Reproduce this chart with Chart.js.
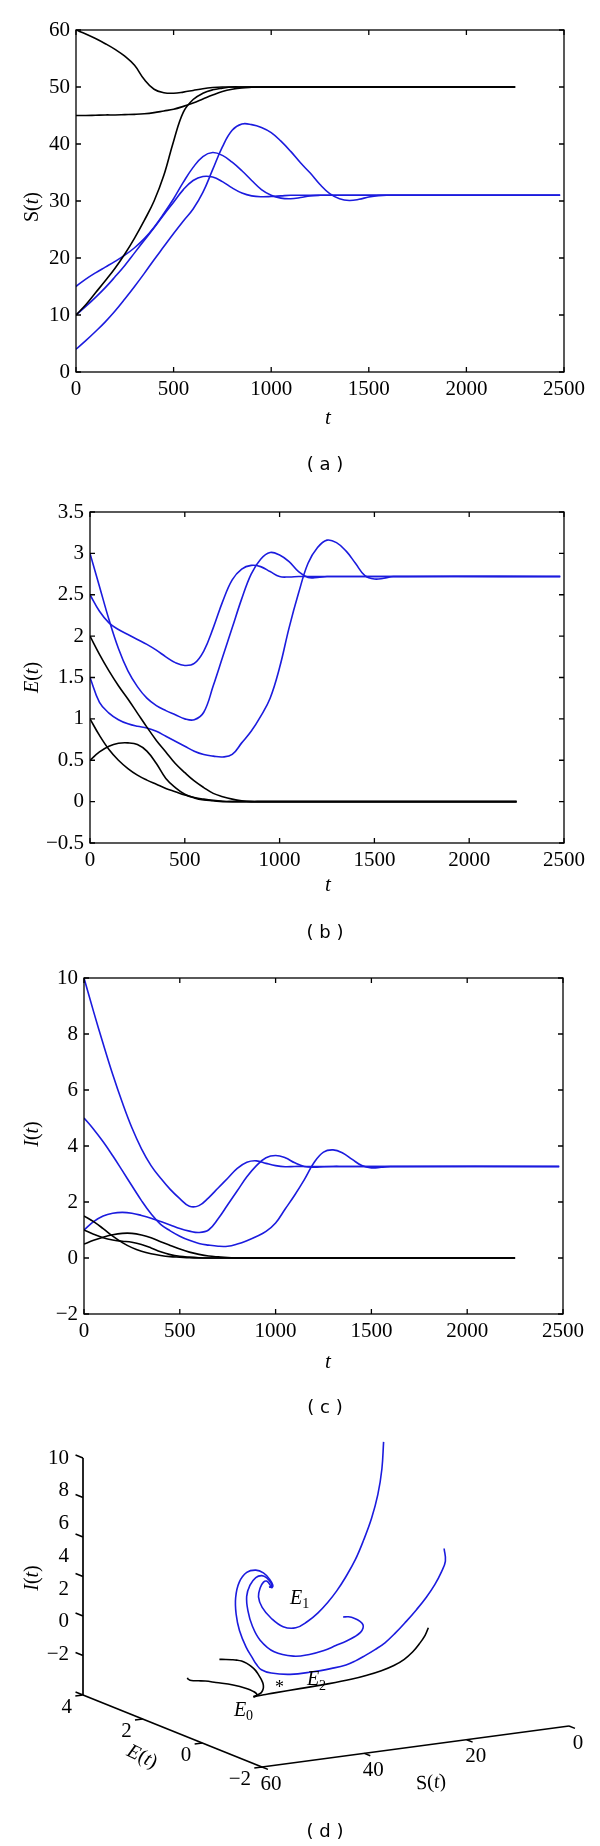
<!DOCTYPE html>
<html>
<head>
<meta charset="utf-8">
<script src="https://cdn.jsdelivr.net/npm/chart.js@4.4.1/dist/chart.umd.min.js"></script>
<style>
  body { margin: 0; background: #fff; }
  #wrap { position: relative; width: 600px; height: 1846px; background: #fff; }
  canvas { position: absolute; left: 0; }
</style>
</head>
<body>
<div id="wrap">
  <canvas id="chartS" width="600" height="480" style="top:0px"></canvas>
  <canvas id="chartE" width="600" height="470" style="top:480px"></canvas>
  <canvas id="chartI" width="600" height="470" style="top:950px"></canvas>
  <canvas id="chart3d" width="600" height="426" style="top:1420px"></canvas>
</div>
<script>
// time grid (black runs stop at 2250, blue runs at 2480)
var tBlack = [0,50,100,150,200,250,300,350,400,450,500,550,600,650,700,750,800,850,900,950,1000,1050,1100,1150,1200,1250,1300,1350,1400,1450,1500,1550,1600,2250];
var tBlue  = [0,50,100,150,200,250,300,350,400,450,500,550,600,650,700,750,800,850,900,950,1000,1050,1100,1150,1200,1250,1300,1350,1400,1450,1500,1550,1600,2480];

// S(t)
var sBlack60 = [60,59.3,58.5,57.6,56.6,55.4,53.8,51.3,49.6,49.0,48.9,49.1,49.4,49.7,49.9,50,50,50,50,50,50,50,50,50,50,50,50,50,50,50,50,50,50,50];
var sBlack45 = [45,45,45.05,45.1,45.1,45.15,45.2,45.3,45.5,45.8,46.1,46.6,47.2,47.9,48.6,49.2,49.6,49.85,49.95,50,50,50,50,50,50,50,50,50,50,50,50,50,50,50];
var sBlack10 = [10,11.8,13.9,16.0,18.2,20.7,23.5,26.6,30.0,34.5,40.5,45.6,47.8,48.9,49.5,49.8,50,50,50,50,50,50,50,50,50,50,50,50,50,50,50,50,50,50];
var sBlue10  = [10,11.5,13.1,14.8,16.7,18.7,20.9,23.1,25.3,27.6,29.8,32.0,33.6,34.3,34.2,33.4,32.3,31.4,30.9,30.75,30.8,30.9,31,31,31,31,31,31,31,31,31,31,31,31];
var sBlue15  = [15,16.3,17.4,18.4,19.4,20.5,21.8,23.4,25.4,27.8,30.4,33.3,35.9,37.8,38.5,38.0,36.8,35.3,33.6,32.0,31.0,30.5,30.4,30.6,30.9,31.0,31,31,31,31,31,31,31,31];
var sBlue4   = [4,5.5,7.1,8.8,10.7,12.8,15.0,17.3,19.7,22.0,24.3,26.5,28.6,31.5,35.5,39.5,42.4,43.5,43.4,42.9,42.0,40.5,38.7,36.7,34.9,32.9,31.3,30.4,30.1,30.3,30.7,30.95,31,31];

// E(t)
var eBlack2  = [2,1.78,1.58,1.4,1.24,1.07,0.9,0.74,0.6,0.46,0.35,0.25,0.17,0.1,0.06,0.03,0.01,0,0,0,0,0,0,0,0,0,0,0,0,0,0,0,0,0];
var eBlack1  = [1,0.8,0.63,0.5,0.4,0.32,0.26,0.21,0.16,0.12,0.08,0.05,0.03,0.015,0.005,0,0,0,0,0,0,0,0,0,0,0,0,0,0,0,0,0,0,0];
var eBlack05 = [0.5,0.6,0.67,0.705,0.71,0.69,0.61,0.46,0.28,0.17,0.09,0.045,0.02,0.01,0,0,0,0,0,0,0,0,0,0,0,0,0,0,0,0,0,0,0,0];
var eBlue25  = [2.5,2.3,2.16,2.08,2.02,1.96,1.9,1.83,1.75,1.68,1.645,1.67,1.82,2.1,2.42,2.68,2.81,2.855,2.84,2.78,2.72,2.715,2.72,2.72,2.72,2.72,2.72,2.72,2.72,2.72,2.72,2.72,2.72,2.72];
var eBlue3   = [3,2.6,2.2,1.85,1.58,1.39,1.25,1.16,1.1,1.05,1.0,0.99,1.08,1.4,1.75,2.1,2.45,2.75,2.93,3.01,2.98,2.9,2.78,2.71,2.71,2.72,2.72,2.72,2.72,2.72,2.72,2.72,2.72,2.72];
var eBlue15  = [1.5,1.2,1.07,0.99,0.94,0.91,0.89,0.85,0.79,0.73,0.67,0.61,0.57,0.55,0.54,0.57,0.71,0.85,1.03,1.25,1.62,2.1,2.52,2.88,3.07,3.16,3.13,3.03,2.88,2.73,2.69,2.7,2.72,2.72];

// I(t)
var iBlack15 = [1.5,1.3,1.05,0.78,0.55,0.37,0.24,0.15,0.09,0.05,0.03,0.01,0,0,0,0,0,0,0,0,0,0,0,0,0,0,0,0,0,0,0,0,0,0];
var iBlack1  = [1,0.85,0.72,0.64,0.6,0.56,0.48,0.36,0.22,0.12,0.06,0.03,0.01,0,0,0,0,0,0,0,0,0,0,0,0,0,0,0,0,0,0,0,0,0];
var iBlack05 = [0.5,0.63,0.74,0.83,0.88,0.88,0.82,0.72,0.58,0.45,0.32,0.21,0.13,0.07,0.04,0.02,0,0,0,0,0,0,0,0,0,0,0,0,0,0,0,0,0,0];
var iBlue10  = [10,8.8,7.65,6.55,5.55,4.65,3.9,3.3,2.85,2.45,2.12,1.85,1.87,2.15,2.5,2.85,3.2,3.42,3.47,3.38,3.3,3.26,3.27,3.27,3.27,3.27,3.27,3.27,3.27,3.27,3.27,3.27,3.27,3.27];
var iBlue1   = [1,1.3,1.5,1.6,1.63,1.6,1.52,1.42,1.3,1.18,1.05,0.96,0.91,1.0,1.4,1.9,2.4,2.9,3.3,3.58,3.66,3.58,3.4,3.27,3.24,3.26,3.27,3.27,3.27,3.27,3.27,3.27,3.27,3.27];
var iBlue5   = [5,4.6,4.15,3.65,3.12,2.58,2.05,1.58,1.2,0.97,0.78,0.63,0.52,0.46,0.42,0.42,0.5,0.62,0.77,0.95,1.25,1.75,2.25,2.8,3.4,3.78,3.86,3.75,3.52,3.3,3.22,3.24,3.27,3.27];

// tick values
var tTicks = [0, 500, 1000, 1500, 2000, 2500];
var sTicks3d = [60, 40, 20, 0];
var eTicks3d = [4, 2, 0, -2];
var iTicks3d = [10, 8, 6, 4, 2, 0, -2];

// equilibria for the phase portrait
var eqE0 = [50, 0, 0];
var eqE1 = [31, 2.72, 3.27];
var eqE2 = [42, 0.5, 0];

var BLUE = '#1b1bde';
var BLACK = '#000000';
var TICK_FONT = 21;

Chart.defaults.font.family = '"Liberation Serif", "Times New Roman", serif';
Chart.defaults.color = '#000';

function minusSign(v) { return String(v).replace('-', '\u2212'); }

// draws text made of pieces [text, italic, subscript] centred at x,y
function richText(ctx, parts, x, y, angle, size) {
  function fontFor(p) {
    return (p[1] ? 'italic ' : '') + (p[2] ? Math.round(size * 0.7) : size) + 'px "Liberation Serif"';
  }
  ctx.save();
  ctx.translate(x, y);
  ctx.rotate(angle);
  ctx.textBaseline = 'middle';
  ctx.textAlign = 'left';
  var w = 0;
  parts.forEach(function(p) { ctx.font = fontFor(p); w += ctx.measureText(p[0]).width; });
  var cx = -w / 2;
  parts.forEach(function(p) {
    ctx.font = fontFor(p);
    ctx.fillText(p[0], cx, p[2] ? size * 0.3 : 0);
    cx += ctx.measureText(p[0]).width;
  });
  ctx.restore();
}

// box with inward ticks, axis titles and caption for the time plots
var panelDecor = {
  id: 'panelDecor',
  afterDatasetsDraw: function(chart, args, o) {
    var ctx = chart.ctx, a = chart.chartArea;
    var xs = chart.scales.x, ys = chart.scales.y;
    ctx.save();
    ctx.strokeStyle = '#000';
    ctx.lineWidth = 1.3;
    ctx.beginPath();
    xs.ticks.forEach(function(tk) {
      var p = xs.getPixelForValue(tk.value);
      ctx.moveTo(p, a.bottom); ctx.lineTo(p, a.bottom - 5);
      ctx.moveTo(p, a.top); ctx.lineTo(p, a.top + 5);
    });
    ys.ticks.forEach(function(tk) {
      var p = ys.getPixelForValue(tk.value);
      ctx.moveTo(a.left, p); ctx.lineTo(a.left + 5, p);
      ctx.moveTo(a.right, p); ctx.lineTo(a.right - 5, p);
    });
    ctx.stroke();
    ctx.strokeRect(a.left, a.top, a.right - a.left, a.bottom - a.top);
    ctx.fillStyle = '#000';
    richText(ctx, o.yTitle, 33, (a.top + a.bottom) / 2 + o.yTitleShift, -Math.PI / 2, 20);
    richText(ctx, [['t', true]], 328, a.bottom + o.xTitleGap, 0, 21);
    ctx.font = '18px "DejaVu Sans"';
    ctx.textAlign = 'center';
    ctx.textBaseline = 'middle';
    ctx.fillText(o.caption, 325, o.captionY);
    ctx.restore();
  }
};

function pts(t, v) {
  return t.map(function(x, i) { return { x: x, y: v[i] }; });
}

function makePanel(id, area, yMin, yMax, yStep, series, deco) {
  var cv = document.getElementById(id);
  var H = cv.height, W = cv.width;
  return new Chart(cv, {
    type: 'line',
    data: {
      datasets: series.map(function(s) {
        return { data: pts(s[0], s[1]), borderColor: s[2], borderWidth: 1.6,
                 pointRadius: 0, tension: 0.4, fill: false };
      })
    },
    options: {
      responsive: false,
      animation: false,
      layout: { padding: { left: 0, top: area.top, right: W - area.right, bottom: 0 } },
      plugins: { legend: { display: false }, tooltip: { enabled: false }, panelDecor: deco },
      scales: {
        x: {
          type: 'linear', min: 0, max: 2500,
          afterBuildTicks: function(sc) { sc.ticks = tTicks.map(function(v) { return { value: v }; }); },
          afterFit: function(sc) { sc.height = H - area.bottom; },
          grid: { display: false, drawTicks: false },
          border: { display: false },
          ticks: { padding: 5, font: { size: TICK_FONT }, maxRotation: 0, callback: minusSign }
        },
        y: {
          min: yMin, max: yMax,
          afterFit: function(sc) { sc.width = area.left; },
          grid: { display: false, drawTicks: false },
          border: { display: false },
          ticks: { stepSize: yStep, padding: 6, font: { size: TICK_FONT }, callback: minusSign }
        }
      }
    },
    plugins: [panelDecor]
  });
}

makePanel('chartS', { left: 76, top: 30, right: 564, bottom: 372 }, 0, 60, 10, [
  [tBlack, sBlack60, BLACK], [tBlack, sBlack45, BLACK], [tBlack, sBlack10, BLACK],
  [tBlue, sBlue10, BLUE], [tBlue, sBlue15, BLUE], [tBlue, sBlue4, BLUE]
], { yTitle: [['S', false], ['(', false], ['t', true], [')', false]], yTitleShift: 6, xTitleGap: 46, caption: '( a )', captionY: 465 });

makePanel('chartE', { left: 90, top: 32, right: 564, bottom: 363 }, -0.5, 3.5, 0.5, [
  [tBlack, eBlack2, BLACK], [tBlack, eBlack1, BLACK], [tBlack, eBlack05, BLACK],
  [tBlue, eBlue25, BLUE], [tBlue, eBlue3, BLUE], [tBlue, eBlue15, BLUE]
], { yTitle: [['E', true], ['(', false], ['t', true], [')', false]], yTitleShift: 0, xTitleGap: 42, caption: '( b )', captionY: 453 });

makePanel('chartI', { left: 84, top: 28, right: 563, bottom: 364 }, -2, 10, 2, [
  [tBlack, iBlack15, BLACK], [tBlack, iBlack1, BLACK], [tBlack, iBlack05, BLACK],
  [tBlue, iBlue10, BLUE], [tBlue, iBlue1, BLUE], [tBlue, iBlue5, BLUE]
], { yTitle: [['I', true], ['(', false], ['t', true], [')', false]], yTitleShift: -12, xTitleGap: 48, caption: '( c )', captionY: 458 });

// ---- phase portrait (S, E, I) with a fixed oblique view ----
var view3d = { ox: 83, oy: 275, sx: -5.117, sy: 0.683, ex: -29.83, ey: -12, iy: -19.75 };
function project(S, E, I) {
  return {
    x: view3d.ox + (S - 60) * view3d.sx + (E - 4) * view3d.ex,
    y: view3d.oy + (S - 60) * view3d.sy + (E - 4) * view3d.ey + (I + 2) * view3d.iy
  };
}
function path3d(S, E, I) {
  return S.map(function(s, k) { return project(s, E[k], I[k]); });
}

var runs3d = [
  [sBlue10, eBlue25, iBlue10, BLUE],
  [sBlue15, eBlue3, iBlue1, BLUE],
  [sBlue4, eBlue15, iBlue5, BLUE],
  [sBlack10, eBlack1, iBlack15, BLACK],
  [sBlack45, eBlack2, iBlack05, BLACK],
  [sBlack60, eBlack05, iBlack1, BLACK]
];

var ds3d = runs3d.map(function(r) {
  return { data: path3d(r[0], r[1], r[2]), borderColor: r[3], borderWidth: 1.6,
           showLine: true, pointRadius: 0, tension: 0.4, fill: false };
});
// box axes
[[[60, 4, -2], [60, 4, 10]], [[60, 4, -2], [60, -2, -2]], [[60, -2, -2], [0, -2, -2]]].forEach(function(ax) {
  ds3d.push({ data: [project(ax[0][0], ax[0][1], ax[0][2]), project(ax[1][0], ax[1][1], ax[1][2])],
              borderColor: '#000', borderWidth: 1.7, showLine: true, pointRadius: 0, tension: 0 });
});

var decor3d = {
  id: 'decor3d',
  afterDatasetsDraw: function(chart) {
    var ctx = chart.ctx, xs = chart.scales.x, ys = chart.scales.y;
    function px(p) { return { x: xs.getPixelForValue(p.x), y: ys.getPixelForValue(p.y) }; }
    function seg(a, b) { var p = px(a), q = px(b); ctx.moveTo(p.x, p.y); ctx.lineTo(q.x, q.y); }
    ctx.save();
    ctx.strokeStyle = '#000';
    ctx.lineWidth = 1.5;
    ctx.beginPath();
    iTicks3d.forEach(function(v) { seg(project(60, 4, v), project(60, 4.25, v)); });
    eTicks3d.forEach(function(v) { seg(project(60, v, -2), project(61.5, v, -2)); });
    sTicks3d.forEach(function(v) { seg(project(v, -2, -2), project(v, -2.2, -2)); });
    ctx.stroke();

    ctx.fillStyle = '#000';
    ctx.font = TICK_FONT + 'px "Liberation Serif"';
    ctx.textBaseline = 'middle';
    var top = px(project(60, 4, 10));
    ctx.textAlign = 'right';
    iTicks3d.forEach(function(v) {
      var p = px(project(60, 4, v));
      ctx.fillText(minusSign(v), p.x - 14, top.y + (p.y - top.y) * 0.83);
    });
    eTicks3d.forEach(function(v) {
      var p = px(project(60, v, -2));
      ctx.fillText(minusSign(v), p.x - 11, p.y + 12);
    });
    ctx.textAlign = 'center';
    sTicks3d.forEach(function(v) {
      var p = px(project(v, -2, -2));
      ctx.fillText(minusSign(v), p.x + 9, p.y + 17);
    });

    richText(ctx, [['I', true], ['(', false], ['t', true], [')', false]], 33, 158, -Math.PI / 2, 20);
    richText(ctx, [['E', true], ['(', false], ['t', true], [')', false]], 142, 337, 0.45, 20);
    richText(ctx, [['S', false], ['(', false], ['t', true], [')', false]], 431, 363, -0.08, 20);

    var p1 = px(project(eqE1[0], eqE1[1], eqE1[2]));
    richText(ctx, [['E', true], ['1', false, true]], p1.x + 30, p1.y + 12, 0, 20);
    var p0 = px(project(eqE0[0], eqE0[1], eqE0[2]));
    richText(ctx, [['E', true], ['0', false, true]], p0.x - 10, p0.y + 14, 0, 20);
    var p2 = px(project(eqE2[0], eqE2[1], eqE2[2]));
    ctx.font = '18px "Liberation Serif"';
    ctx.fillText('*', p2.x, p2.y + 3);
    richText(ctx, [['E', true], ['2', false, true]], p2.x + 37, p2.y - 5, 0, 20);

    ctx.font = '18px "DejaVu Sans"';
    ctx.textAlign = 'center';
    ctx.fillText('( d )', 325, 412);
    ctx.restore();
  }
};

new Chart(document.getElementById('chart3d'), {
  type: 'scatter',
  data: { datasets: ds3d },
  options: {
    responsive: false,
    animation: false,
    layout: { padding: 0 },
    plugins: { legend: { display: false }, tooltip: { enabled: false } },
    scales: {
      x: { type: 'linear', min: 0, max: 600, display: false },
      y: { type: 'linear', min: 0, max: 426, reverse: true, display: false }
    }
  },
  plugins: [decor3d]
});
</script>
</body>
</html>
